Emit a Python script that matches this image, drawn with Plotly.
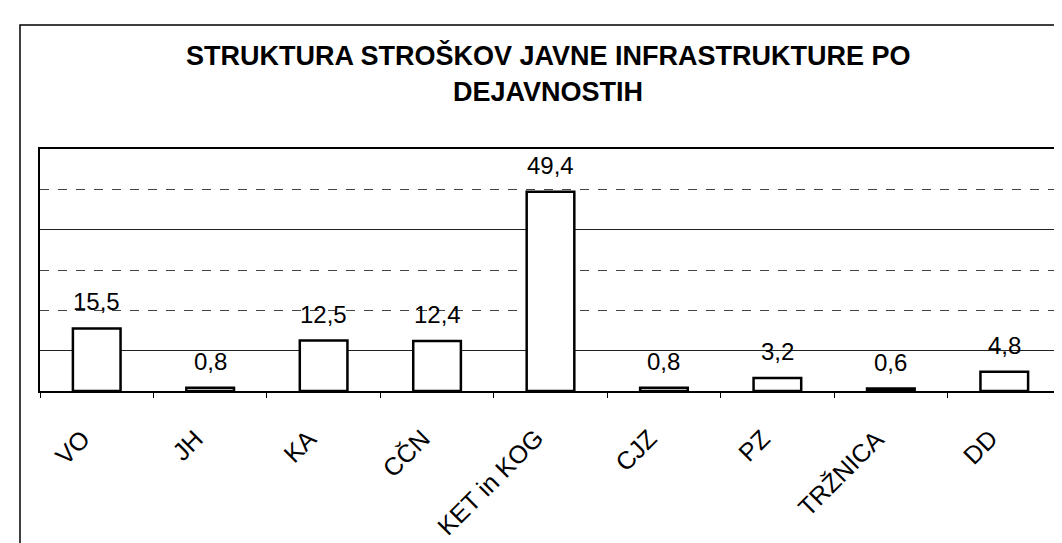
import plotly.graph_objects as go

categories = ["VO", "JH", "KA", "CČN", "KET in KOG", "CJZ", "PZ", "TRŽNICA", "DD"]
values = [15.5, 0.8, 12.5, 12.4, 49.4, 0.8, 3.2, 0.6, 4.8]
title_lines = ["STRUKTURA STROŠKOV JAVNE INFRASTRUKTURE PO", "DEJAVNOSTIH"]

FONT = "Liberation Sans, Arial, Helvetica, sans-serif"

fig = go.Figure()
fig.add_trace(go.Bar(
    x=categories, y=values,
    marker=dict(color="white", line=dict(color="black", width=2.5)),
    width=0.42,
    hoverinfo="skip",
))

# value labels above bars
for c, v in zip(categories, values):
    fig.add_annotation(
        x=c, y=v, xref="x", yref="y",
        text=f"{v:.1f}".replace(".", ","),
        showarrow=False, yanchor="bottom", yshift=11,
        font=dict(family=FONT, size=24, color="black"),
    )

# rotated category labels below the axis
for c in categories:
    fig.add_annotation(
        x=c, y=-0.125, xref="x", yref="paper",
        text=c, showarrow=False, textangle=-45,
        xanchor="right", yanchor="top", xshift=1,
        font=dict(family=FONT, size=25, color="black"),
    )

# title lines
for line, ypos in zip(title_lines, [1.388, 1.236]):
    fig.add_annotation(
        x=0.4976, y=ypos, xref="paper", yref="paper",
        text=f"<b>{line}</b>", showarrow=False,
        xanchor="center", yanchor="middle",
        font=dict(family=FONT, size=27, color="black"),
    )

# outer chart frame
fig.add_shape(type="rect", xref="paper", yref="paper",
              x0=-0.0196, x1=1.02, y0=-0.8, y1=1.512,
              line=dict(color="black", width=1.5), layer="below")

fig.update_layout(
    width=1062, height=543,
    margin=dict(l=32, r=7, t=141, b=160),
    paper_bgcolor="white", plot_bgcolor="white",
    showlegend=False,
    font=dict(family=FONT, size=23, color="black"),
)
fig.update_xaxes(
    type="category",
    showline=True, linecolor="black", linewidth=2, mirror=True,
    ticks="outside", tickson="boundaries", ticklen=5, tickcolor="black", tickwidth=1,
    showticklabels=False,
    showgrid=False,
)
fig.update_yaxes(
    range=[0, 60],
    showline=True, linecolor="black", linewidth=2, mirror=True,
    showticklabels=False, ticks="",
    zeroline=False,
    tick0=10, dtick=30,
    showgrid=True, gridcolor="#222", gridwidth=1,
    minor=dict(dtick=10, showgrid=True, gridcolor="#444", gridwidth=1, griddash="dash", ticks=""),
)

fig.write_html("out.html")
